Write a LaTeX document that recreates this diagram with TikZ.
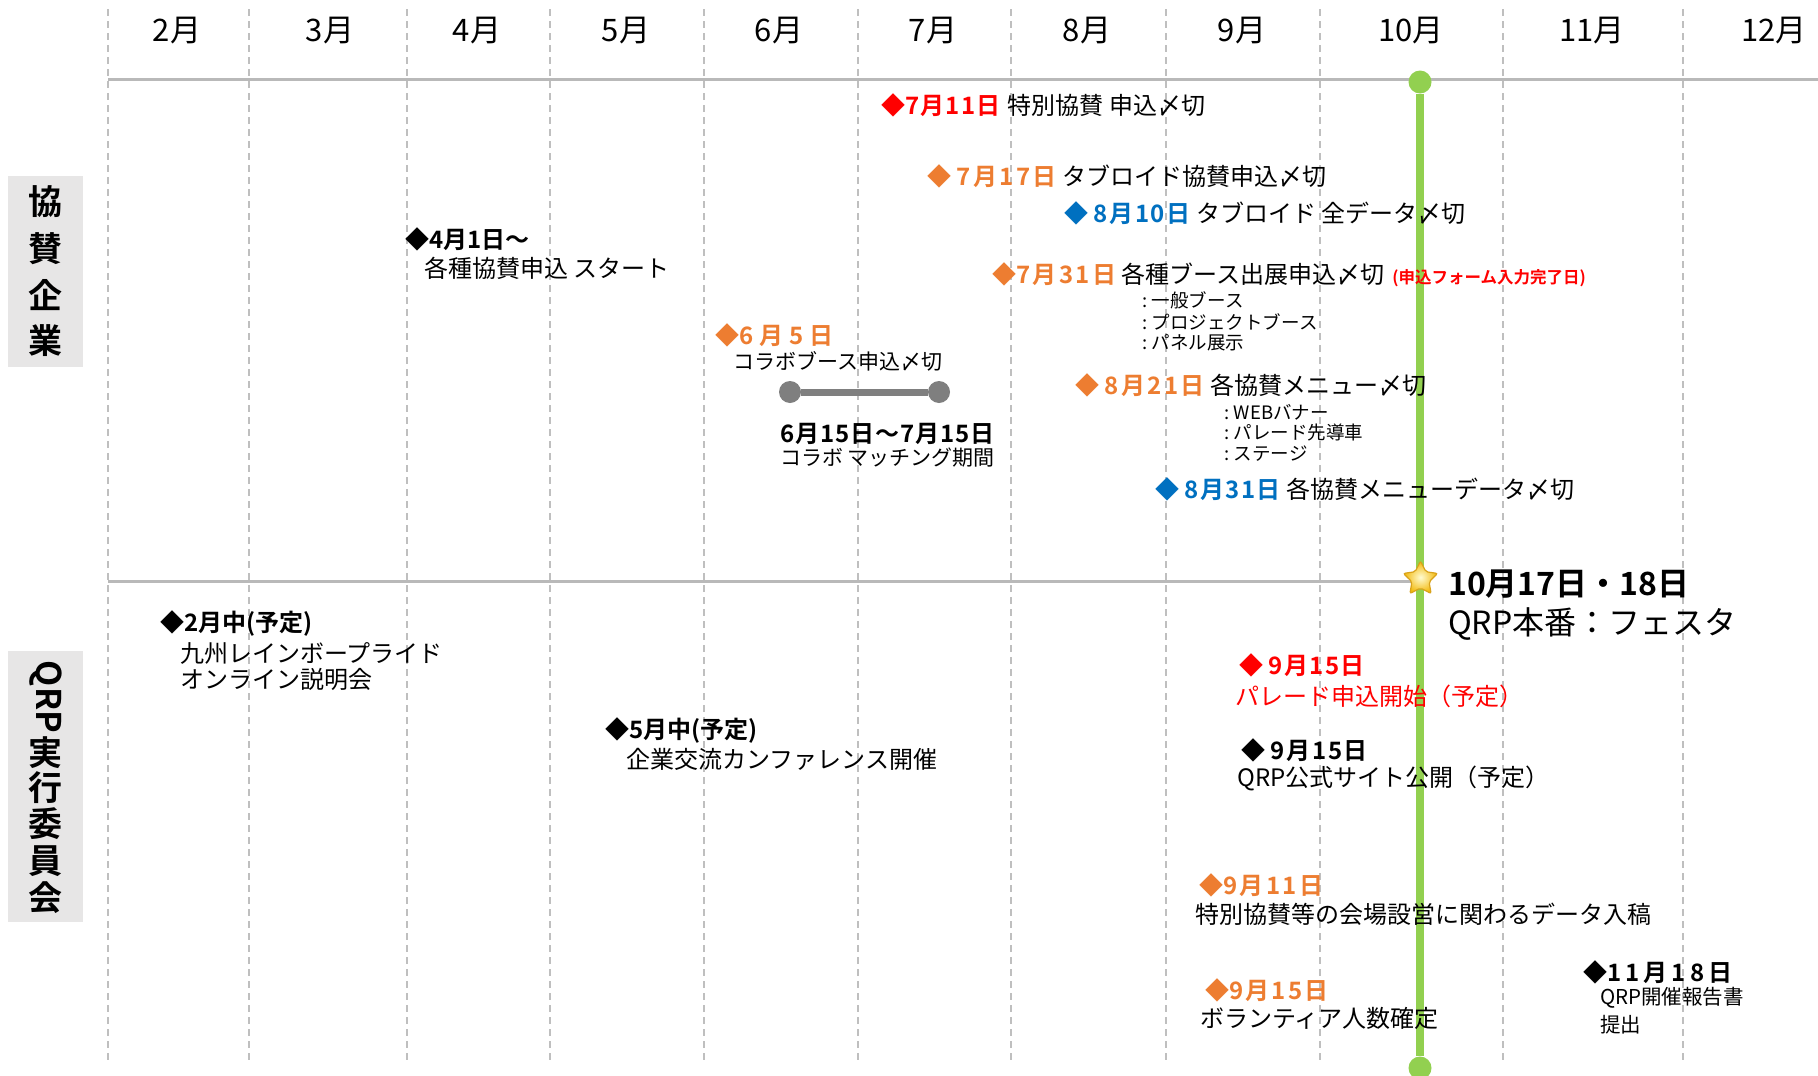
\documentclass[tikz,border=0pt]{standalone}
\usepackage{fontspec}
\setmainfont{Noto Sans CJK JP}[BoldFont={Noto Sans CJK JP Bold}]
\usetikzlibrary{shapes.geometric}
\newcommand\fs[1]{\fontsize{#1}{#1}\selectfont}
\newcommand\dt[2]{{\bfseries\addfontfeatures{LetterSpace=#1}#2}}
\definecolor{qred}{HTML}{FF0000}
\definecolor{qorange}{HTML}{ED7D31}
\definecolor{qblue}{HTML}{0070C0}
\definecolor{qgreen}{HTML}{92D050}
\definecolor{qgrid}{HTML}{BFBFBF}
\definecolor{qbox}{HTML}{E7E6E6}
\definecolor{qbar}{HTML}{7F7F7F}
\definecolor{qstarin}{HTML}{FFFBD0}
\definecolor{qstarout}{HTML}{F2B705}
\definecolor{qstarline}{HTML}{D9A21B}
\tikzset{
  gridline/.style={draw=qgrid, line width=1.2pt, dash pattern=on 7pt off 5pt},
  sepline/.style={draw=qgrid!90!gray, line width=3pt},
  month/.style={inner sep=0pt, font=\fs{31}},
  sidebox/.style={fill=qbox, draw=none, inner sep=0pt},
  sidech/.style={inner sep=0pt, font={\fs{34}\bfseries}},
  t/.style={anchor=west, inner sep=0pt, font=\fs{24}},
  tb/.style={anchor=west, inner sep=0pt, font={\fs{24}\bfseries}},
  tm/.style={anchor=west, inner sep=0pt, font=\fs{21}},
  ts/.style={anchor=west, inner sep=0pt, font=\fs{18.5}},
  gdot/.style={circle, fill=qgreen, minimum size=23pt, inner sep=0pt},
  gline/.style={draw=qgreen, line width=8pt},
  bdot/.style={circle, fill=qbar, minimum size=22pt, inner sep=0pt},
  barline/.style={draw=qbar, line width=7pt},
  bigstar/.style={star, star points=5, star point ratio=2.0, minimum size=36pt, inner sep=0pt, inner color=qstarin, outer color=qstarout, draw=qstarline, line width=1.2pt, rounded corners=2pt},
}
\begin{document}
\begin{tikzpicture}[x=1pt,y=-1pt]
\useasboundingbox[fill=white] (0,0) rectangle (1818,1076);

% grid
\foreach \x in {108,249,407,550,704,858,1011,1166,1320,1503,1683}
  \draw[gridline] (\x,9) -- (\x,1062);

% month labels
\node[month] (m2) at (177,31) {2月};
\node[month] (m3) at (330,31) {3月};
\node[month] (m4) at (477,31) {4月};
\node[month] (m5) at (626,31) {5月};
\node[month] (m6) at (779,31) {6月};
\node[month] (m7) at (933,31) {7月};
\node[month] (m8) at (1087,31) {8月};
\node[month] (m9) at (1242,31) {9月};
\node[month] (m10) at (1411,31) {10月};
\node[month] (m11) at (1592,31) {11月};
\node[month] (m12) at (1774,31) {12月};

% separators
\coordinate (sepA0) at (108,79);
\coordinate (sepA1) at (1818,79);
\draw[sepline] (sepA0) -- (sepA1);
\coordinate (sepB0) at (108,581);
\coordinate (sepB1) at (1412,581);
\draw[sepline] (sepB0) -- (sepB1);

% festival line
\node[gdot] (gtop) at (1420,82) {};
\node[gdot] (gbot) at (1420,1068) {};
\draw[gline] (gtop) -- (gbot);
\node[bigstar] (fest) at (1420.5,579) {};

% side labels
\node[sidebox, minimum width=75pt, minimum height=191pt] (boxA) at (45.5,271.5) {};
\node[sidech] (sa1) at (45.5,202) {協};
\node[sidech] (sa2) at (45.5,249) {賛};
\node[sidech] (sa3) at (45.5,295) {企};
\node[sidech] (sa4) at (45.5,341) {業};
\node[sidebox, minimum width=75pt, minimum height=271pt] (boxB) at (45.5,786.5) {};
\node[sidech, rotate=-90] (sbq) at (45.5,697) {QRP};
\node[sidech] (sb1) at (45.5,753) {実};
\node[sidech] (sb2) at (45.5,788) {行};
\node[sidech] (sb3) at (45.5,824) {委};
\node[sidech] (sb4) at (45.5,861) {員};
\node[sidech] (sb5) at (45.5,898) {会};

% upper section events
\node[t] (a1) at (881,105) {\textcolor{qred}{◆\dt{5}{7月11日}}\hspace{2pt} 特別協賛 申込〆切};
\node[t] (b1) at (927,176) {\textcolor{qorange}{◆ \dt{10}{7月17日}} タブロイド協賛申込〆切};
\node[t] (c1) at (1064,213) {\textcolor{qblue}{◆ \dt{7}{8月10日}} タブロイド 全データ〆切};
\node[t] (d1) at (992,275) {\textcolor{qorange}{◆\dt{10}{7月31日}} 各種ブース出展申込〆切\hspace{8pt}{\fs{16.5}\bfseries\color{qred}(申込フォーム入力完了日)}};
\node[ts] (d2) at (1142,300) {:\hspace{0.25em}一般ブース};
\node[ts] (d3) at (1142,322) {:\hspace{0.25em}プロジェクトブース};
\node[ts] (d4) at (1142,343) {:\hspace{0.25em}パネル展示};
\node[t] (e1) at (715,335) {\textcolor{qorange}{◆\dt{25}{6月5日}}};
\node[tm] (e2) at (733,361) {コラボブース申込〆切};
\node[bdot] (f1) at (790,392) {};
\node[bdot] (f2) at (939,392) {};
\draw[barline] (f1) -- (f2);
\node[tb] (g1) at (780,434) {\dt{4}{6月15日～7月15日}};
\node[tm] (g2) at (780,458) {コラボ マッチング期間};
\node[tb] (h1) at (405,239) {◆4月1日～};
\node[t] (h2) at (424,268) {各種協賛申込 スタート};
\node[t] (i1) at (1075,385) {\textcolor{qorange}{◆ \dt{10}{8月21日}} 各協賛メニュー〆切};
\node[ts] (i2) at (1224,412) {:\hspace{0.25em}WEBバナー};
\node[ts] (i3) at (1224,432) {:\hspace{0.25em}パレード先導車};
\node[ts] (i4) at (1224,454) {:\hspace{0.25em}ステージ};
\node[t] (j1) at (1155,489) {\textcolor{qblue}{◆ \dt{6}{8月31日}} 各協賛メニューデータ〆切};

% lower section events
\node[tb] (l1) at (160,624) {◆2月中(予定)};
\node[t] (l2) at (180,653) {九州レインボープライド};
\node[t] (l3) at (180,679) {オンライン説明会};
\node[tb] (n1) at (605,730) {◆5月中(予定)};
\node[t] (n2) at (626,759) {企業交流カンファレンス開催};
\node[tb, text=qred] (p1) at (1239,665) {◆ \dt{6}{9月15日}};
\node[t, text=qred] (p2) at (1235,696) {パレード申込開始（予定）};
\node[tb] (o1) at (1241,750) {◆ \dt{7}{9月15日}};
\node[t] (o2) at (1237,778) {QRP公式サイト公開（予定）};
\node[tb, text=qorange] (q1) at (1199,885) {◆\dt{10}{9月11日}};
\node[t] (q2) at (1195,914) {特別協賛等の会場設営に関わるデータ入稿};
\node[tb, text=qorange] (r1) at (1205,990) {◆\dt{9}{9月15日}};
\node[t] (r2) at (1200,1018) {ボランティア人数確定};
\node[tb] (s1) at (1583,972) {◆\dt{17}{11月18日}};
\node[anchor=west, inner sep=0pt, font=\fs{20.5}] (s2) at (1600,998) {QRP開催報告書};
\node[anchor=west, inner sep=0pt, font=\fs{20.5}] (s3) at (1600,1025) {提出};

% festival labels
\node[anchor=west, inner sep=0pt, font={\fs{32}\bfseries}] (k1) at (1448,584) {10月17日・18日};
\node[anchor=west, inner sep=0pt, font=\fs{32}] (k2) at (1448,624) {QRP本番：フェスタ};
\end{tikzpicture}
\end{document}
